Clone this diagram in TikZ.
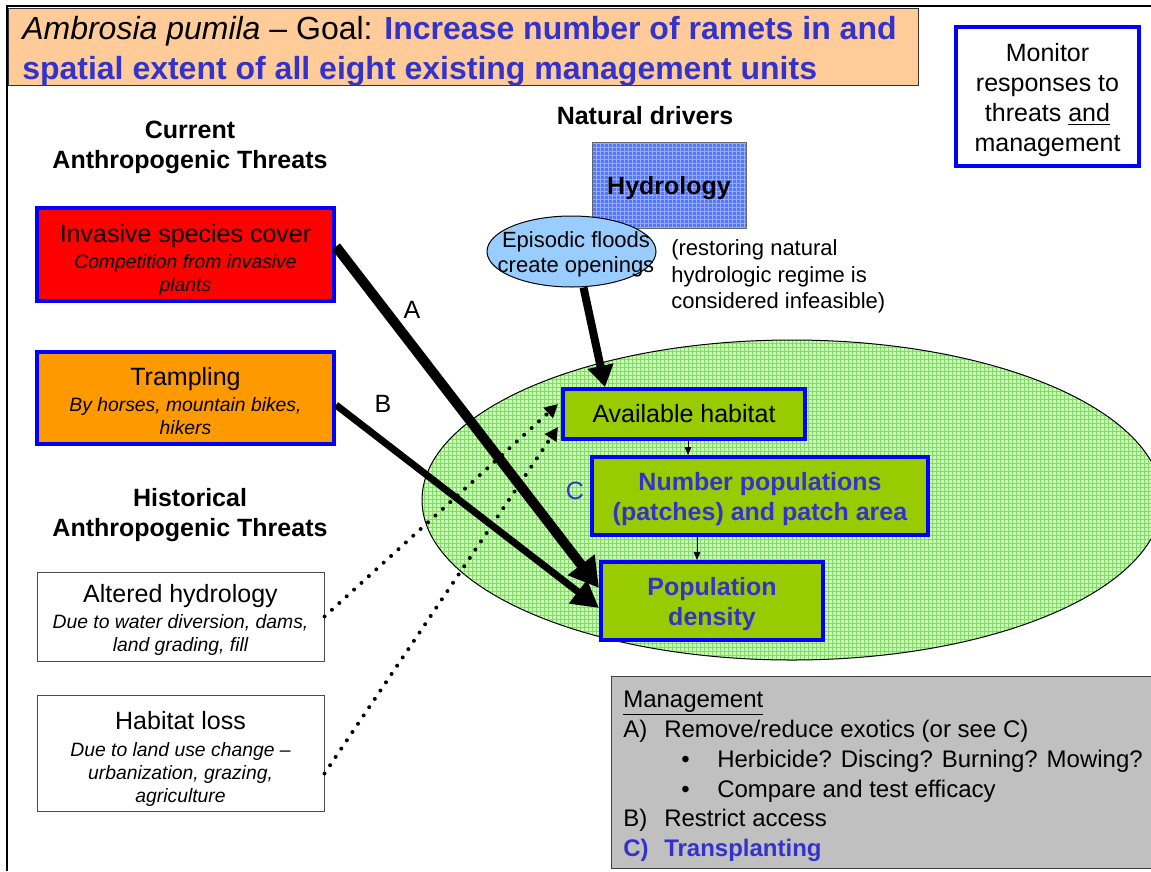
\documentclass[tikz,border=0pt]{standalone}
\usepackage{fontspec}
\setmainfont{Liberation Sans}
\usetikzlibrary{arrows.meta,shapes.geometric,patterns,calc}
\definecolor{peach}{HTML}{FFCC99}
\definecolor{tblue}{HTML}{3333CC}
\definecolor{bblue}{HTML}{0000FF}
\definecolor{orng}{HTML}{FF9900}
\definecolor{boxgreen}{HTML}{99CC00}
\definecolor{elfill}{HTML}{CFF7C0}
\definecolor{elgrid}{HTML}{7FE060}
\definecolor{floodblue}{HTML}{99CCFF}
\definecolor{hydfill}{HTML}{5577FF}
\definecolor{hydgrid}{HTML}{95AEFF}
\definecolor{mgray}{HTML}{C0C0C0}
\newcommand\mainfnt{\fontsize{18.75}{22.5}\selectfont}
\newcommand\subfnt{\fontsize{14.5}{17.25}\selectfont\itshape}
\begin{document}
\begin{tikzpicture}[x=0.75pt,y=-0.75pt,
  bluebox/.style={draw=bblue, line width=3pt, inner sep=0pt, align=center},
  grnbox/.style={bluebox, fill=boxgreen, font=\mainfnt},
  thinbox/.style={draw=black!70, line width=0.75pt, fill=white, inner sep=0pt},
  boxtext/.style={align=center, inner sep=0pt, font=\subfnt},
  arrA/.style={line width=7.5pt, -{Triangle[length=22pt,width=24pt]}},
  arrB/.style={line width=5.25pt, -{Triangle[length=20pt,width=21pt]}},
  arrH/.style={line width=6pt, -{Triangle[length=16pt,width=19pt]}},
  smallarr/.style={line width=0.75pt, -{Triangle[length=6pt,width=5pt]}},
  dotarr/.style={line width=3pt, dash pattern=on 0pt off 7.5pt, line cap=round, -{Triangle[length=10pt,width=10pt]}}
]
\clip (0,0) rectangle (1151,871);
\fill[white] (0,0) rectangle (1151,871);
% frame lines
\draw[line width=1.5pt] (6,6) -- (1151,6);
\draw[line width=1.5pt] (7,6) -- (7,871);
% title
\node[draw=black!80, line width=1pt, fill=peach, minimum width=682.5pt, minimum height=57.75pt, anchor=north west, inner sep=0] (titlebox) at (8,8) {};
\node[anchor=west, align=left, inner sep=0, font=\fontsize{24}{30}\selectfont] (title) at (22,51)
  {\textit{Ambrosia pumila} – Goal: {\bfseries\color{tblue}Increase number of ramets in and}\\{\bfseries\color{tblue}spatial extent of all eight existing management units}};
% monitor
\node[bluebox, line width=3.5pt, fill=white, minimum width=137.25pt, minimum height=104.25pt] (monitor) at (1047.5,96.5) {};
\node[align=center, inner sep=0, font=\mainfnt] (monitorT) at (1047.5,100.5)
  {Monitor\\responses to\\threats \underline{and}\\management};
% headers
\node[font=\mainfnt\bfseries, align=center, inner sep=0] (cur) at (190,147) {Current\\Anthropogenic Threats};
\node[font=\mainfnt\bfseries, align=center, inner sep=0] (hist) at (190,515.5) {Historical\\Anthropogenic Threats};
\node[font=\mainfnt\bfseries, inner sep=0] (natd) at (645,116) {Natural drivers};
% left boxes
\node[bluebox, fill=red, minimum width=222.75pt, minimum height=69.75pt] (inv) at (185.5,254.5) {};
\node[boxtext] (invT) at (185.5,259.5)
  {{\mainfnt\upshape Invasive species cover}\\[2.25pt]Competition from invasive\\plants};
\node[bluebox, fill=orng, minimum width=222.75pt, minimum height=69pt] (tramp) at (185.5,398) {};
\node[boxtext] (trampT) at (185.5,401)
  {{\mainfnt\upshape Trampling}\\[2.25pt]By horses, mountain bikes,\\hikers};
\node[thinbox, minimum width=215.25pt, minimum height=66.75pt] (alt) at (180.5,616.5) {};
\node[boxtext] (altT) at (180.5,619.5)
  {{\mainfnt\upshape Altered hydrology}\\[2.25pt]Due to water diversion, dams,\\land grading, fill};
\node[thinbox, minimum width=215.25pt, minimum height=87pt] (hab) at (180.5,753.5) {};
\node[boxtext] (habT) at (180.5,758.5)
  {{\mainfnt\upshape Habitat loss}\\[3pt]Due to land use change –\\urbanization, grazing,\\agriculture};
% hydrology
\node[draw=black!60, line width=0.75pt, preaction={fill=hydfill}, pattern=grid, pattern color=hydgrid, minimum width=115.5pt, minimum height=64.5pt] (hyd) at (669,185) {};
\node[font=\mainfnt\bfseries, inner sep=0] (hydT) at (669,188) {Hydrology};
\node[ellipse, draw, line width=0.75pt, fill=floodblue, minimum width=126.75pt, minimum height=53.25pt, inner sep=0] (flood) at (571.5,251.5) {};
\node[align=center, inner sep=0, font=\fontsize{16.5}{18.75}\selectfont] (floodT) at (576,254.5) {Episodic floods\\create openings};
\node[anchor=west, align=left, inner sep=0, font=\fontsize{16.5}{19.9}\selectfont] (note) at (671,276.5) {(restoring natural\\hydrologic regime is\\considered infeasible)};
% big ellipse
\node[ellipse, draw, line width=0.75pt, preaction={fill=elfill}, pattern=grid, pattern color=elgrid, minimum width=555pt, minimum height=240pt, inner sep=0] (zone) at (792,500) {};
% green boxes
\node[grnbox, minimum width=181.5pt, minimum height=37.5pt] (avail) at (684,414) {Available habitat};
\node[grnbox, minimum width=252pt, minimum height=58.5pt] (numpop) at (760,496) {};
\node[font=\mainfnt\bfseries, text=tblue, align=center, inner sep=0] (numpopT) at (760,499) {Number populations\\(patches) and patch area};
\node[grnbox, minimum width=166.5pt, minimum height=58.5pt] (popd) at (712,601) {};
\node[font=\mainfnt\bfseries, text=tblue, align=center, inner sep=0] (popdT) at (712,604) {Population\\density};
% labels
\node[font=\mainfnt, inner sep=0] (labA) at (412,310) {A};
\node[font=\mainfnt, inner sep=0] (labB) at (383,404) {B};
\node[font=\mainfnt, inner sep=0, text=tblue] (labC) at (575,491) {C};
% arrows
\draw[arrA] ($(inv.east)+(0,-8)$) -- ($(popd.west)+(0,-13)$);
\draw[arrB] ($(tramp.east)+(0,7)$) -- ($(popd.west)+(0,7)$);
\draw[arrH] ($(flood.south)+(12,0)$) -- ($(avail.north west)+(44,0)$);
\draw[dotarr] (alt.east) -- ($(avail.west)+(-3,-10)$);
\draw[dotarr] ($(hab.east)+(0,20)$) -- ($(avail.west)+(-3,13)$);
\coordinate (s1) at ($(avail.south)+(4,0)$);
\draw[smallarr] (s1) -- (s1 |- numpop.north);
\coordinate (s2) at ($(numpop.south)+(-63,0)$);
\draw[smallarr] (s2) -- (s2 |- popd.north);
% management
\node[draw=black!75, line width=1pt, fill=mgray, minimum width=420pt, minimum height=144pt, anchor=north west, inner sep=0] (mgmt) at (611,676) {};
\node[anchor=west, align=left, inner sep=0, font=\fontsize{18}{22.35}\selectfont] (mtext) at (623,776.5)
  {\underline{Management}\\
   \makebox[30.75pt][l]{A)}Remove/reduce exotics (or see C)\\
   \hspace*{43.5pt}\makebox[27pt][l]{•}Herbicide? Discing? Burning? Mowing?\\
   \hspace*{43.5pt}\makebox[27pt][l]{•}Compare and test efficacy\\
   \makebox[30.75pt][l]{B)}Restrict access\\
   {\bfseries\color{tblue}\makebox[30.75pt][l]{C)}Transplanting}};
\end{tikzpicture}
\end{document}
